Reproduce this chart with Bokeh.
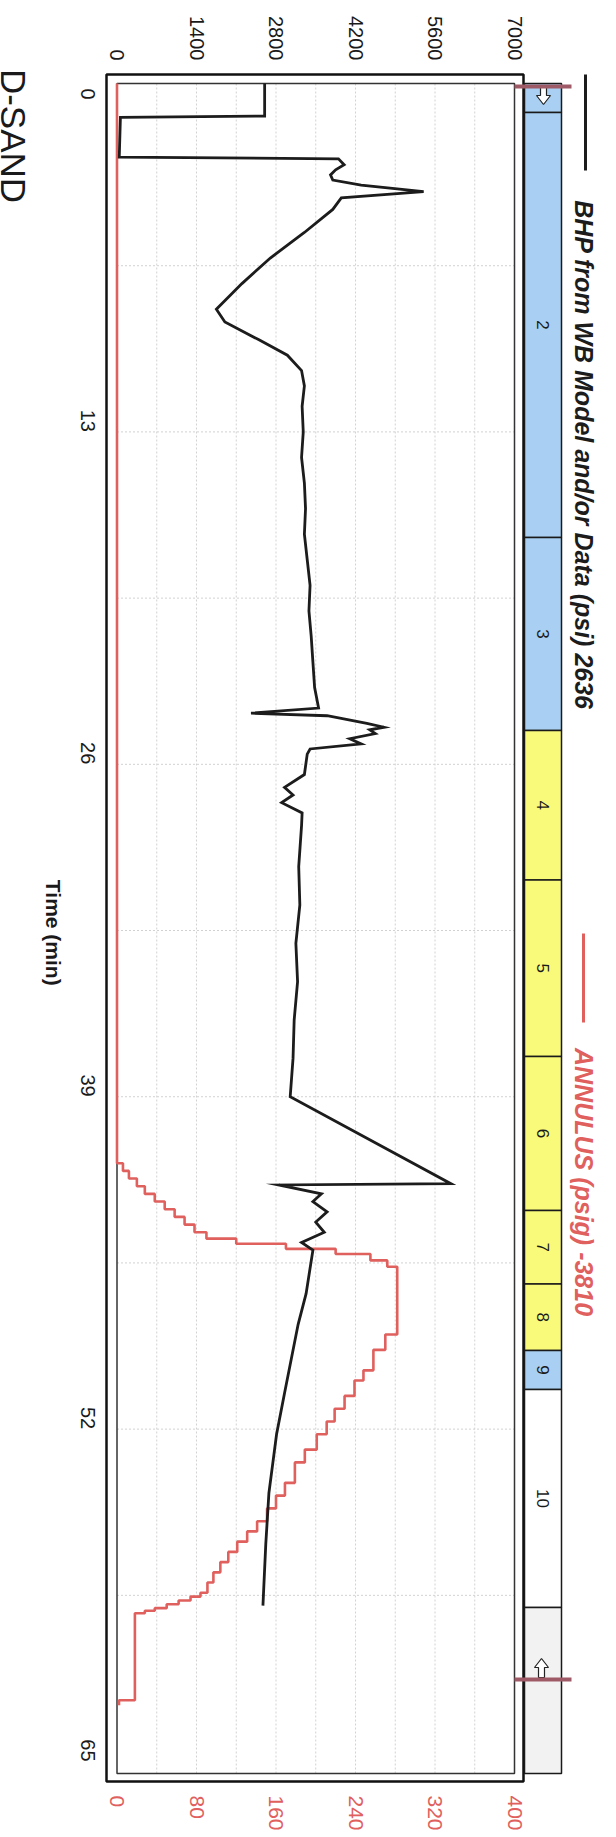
import math
from bokeh.plotting import figure
from bokeh.layouts import row
from bokeh.models import Range1d, LinearAxis, FixedTicker, Label
from bokeh.core.properties import value
from bokeh.embed import file_html
from bokeh.resources import INLINE

# ---------------- data ----------------
bhp_time = [-0.63, 0.65, 0.70, 2.25, 2.32, 2.55, 2.75, 2.95, 3.15, 3.35, 3.6, 3.85, 4.3, 5.2, 6.2, 7.2,
            8.2, 8.7, 9.4, 10.0, 10.6, 11.2, 12.0, 13.0, 14.0, 15.0, 16.0, 17.0, 18.0, 19.0, 20.0, 21.0,
            22.0, 23.0, 23.8, 24.0, 24.1, 24.4, 24.55, 24.65, 24.8, 25.0, 25.2, 25.4, 25.6, 26.4, 26.9,
            27.2, 27.5, 27.9, 28.4, 30.0, 31.5, 33.0, 34.5, 36.0, 37.5, 39.0, 42.4, 42.45, 42.8, 43.1,
            43.5, 43.9, 44.3, 44.7, 45.0, 46.7, 47.9, 50.6, 52.2, 54.5, 56.5, 58.9]
bhp_psi = [2600, 2600, 60, 40, 3900, 4000, 3850, 3760, 3800, 4300, 5400, 3950, 3800, 3300, 2700, 2200,
           1750, 1900, 2500, 3000, 3250, 3300, 3260, 3280, 3250, 3300, 3320, 3300, 3350, 3400, 3380, 3420,
           3450, 3480, 3550, 2360, 3700, 4400, 4700, 4450, 4550, 4100, 4300, 3400, 3350, 3300, 2950,
           3100, 2900, 3260, 3250, 3200, 3220, 3150, 3180, 3120, 3100, 3050, 5880, 2850, 3600, 3450,
           3700, 3500, 3650, 3250, 3450, 3330, 3190, 2950, 2810, 2675, 2620, 2570]

ann_time = [-0.63, 41.6, 41.9, 42.2, 42.5, 42.8, 43.1, 43.4, 43.7, 44.0, 44.3, 44.55, 44.75, 44.95, 45.15,
            45.4, 45.65, 48.3, 48.9, 49.7, 50.1, 50.7, 51.2, 51.7, 52.2, 52.8, 53.3, 54.1, 54.6, 55.1,
            55.6, 56.0, 56.4, 56.8, 57.2, 57.6, 58.0, 58.4, 58.55, 58.7, 58.85, 59.0, 59.1, 59.2, 62.6]
ann_psig = [0, 6, 12, 20, 28, 38, 48, 58, 68, 78, 90, 120, 170, 220, 255,
            272, 282, 270, 258, 248, 239, 229, 219, 211, 201, 189, 179, 169, 160, 151,
            141, 131, 121, 112, 104, 97, 91, 84, 74, 62, 50, 38, 28, 18, 2]
ann_end_time = 62.8

stage_bounds = [-0.63, 0.51, 17.13, 24.68, 30.52, 37.43, 43.45, 46.32, 48.92, 50.45, 58.98, 65.47]
stage_labels = ["", "2", "3", "4", "5", "6", "7", "8", "9", "10", ""]
stage_colors = ["#a9d0f2", "#a9d0f2", "#a9d0f2", "#fafa7a", "#fafa7a", "#fafa7a", "#fafa7a",
                "#fafa7a", "#a9d0f2", "#ffffff", "#f2f2f2"]
marker_times = [-0.51, 61.79]

time_ticks = [0, 13, 26, 39, 52, 65]
bhp_ticks = [0, 1400, 2800, 4200, 5600, 7000]
ann_ticks = [0, 80, 160, 240, 320, 400]
grid_psi = [700, 1400, 2100, 2800, 3500, 4200, 4900, 5600, 6300]
grid_time = [6.5, 13, 19.5, 26, 32.5, 39, 45.5, 52, 58.5]

bhp_legend = "BHP from WB Model and/or Data  (psi) 2636"
ann_legend = "ANNULUS  (psig) -3810"
chart_title = "D-SAND"
time_title = "Time (min)"

# ---------------- geometry helpers (page pixels -> data) ----------------
def px2psi(px):
    return (px - 123.5) * 7000.0 / 397.5

def py2t(py):
    return (py - 107.0) / 25.57

PSI2ANN = 400.0 / 7000.0
RED = "#e0605e"
INK = "#1a1a1a"
FONT = "Liberation Sans"
H = 1821
SIDE_W = 70

# ---------------- left strip with rotated titles ----------------
side = figure(width=SIDE_W, height=H, x_range=Range1d(0, SIDE_W), y_range=Range1d(0, H),
              output_backend="svg", toolbar_location=None,
              x_axis_location=None, y_axis_location=None, min_border=0,
              outline_line_color=None, background_fill_color="white", border_fill_color="white")
for g in side.grid:
    g.visible = False

def side_xy(px, py):
    return px - 8, H - (py - 8)

dx, dy = side_xy(21, 78)
side.add_layout(Label(x=dx, y=dy, text=chart_title, angle=-math.pi / 2,
                      text_align="center", text_baseline="middle", text_font=FONT,
                      text_font_size="35px", text_color=INK))
dx, dy = side_xy(61, 930)
side.add_layout(Label(x=dx, y=dy, text=time_title, angle=-math.pi / 2,
                      text_align="center", text_baseline="middle", text_font=FONT,
                      text_font_size="21px", text_font_style="bold", text_color=INK))

# ---------------- main chart ----------------
x0, x1 = px2psi(108), px2psi(608)
p = figure(frame_width=500, frame_height=1715,
           x_range=Range1d(x0, x1), y_range=Range1d(py2t(1793), py2t(78)),
           output_backend="svg", toolbar_location=None,
           x_axis_location=None, y_axis_location=None,
           min_border_left=30, min_border_right=0, min_border_top=70, min_border_bottom=36,
           outline_line_color=None, background_fill_color="white", border_fill_color="white")
p.extra_x_ranges = {"ann": Range1d(x0 * PSI2ANN, x1 * PSI2ANN)}
for g in p.grid:
    g.visible = False

def style_axis(ax, size, color, standoff):
    ax.axis_line_color = None
    ax.major_tick_line_color = None
    ax.minor_tick_line_color = None
    ax.major_label_text_font = FONT
    ax.major_label_text_font_size = size
    ax.major_label_text_color = color
    ax.major_label_orientation = -math.pi / 2
    ax.major_label_standoff = standoff

top_ax = LinearAxis(ticker=FixedTicker(ticks=bhp_ticks))
style_axis(top_ax, "20px", INK, 4)
p.add_layout(top_ax, "above")

left_ax = LinearAxis(ticker=FixedTicker(ticks=time_ticks))
style_axis(left_ax, "20px", INK, 8)
p.add_layout(left_ax, "left")

bot_ax = LinearAxis(x_range_name="ann", ticker=FixedTicker(ticks=ann_ticks))
style_axis(bot_ax, "21px", RED, 4)
p.add_layout(bot_ax, "below")

# inner plot limits
in_l, in_r, in_t, in_b = 0.0, 7000.0, py2t(91), py2t(1781)

# grid lines
p.segment(x0=grid_psi, y0=[in_t] * len(grid_psi), x1=grid_psi, y1=[in_b] * len(grid_psi),
          line_color="#d2d2d2", line_dash="2 2", line_width=1)
p.segment(x0=[in_l] * len(grid_time), y0=grid_time, x1=[in_r] * len(grid_time), y1=grid_time,
          line_color="#d2d2d2", line_dash="2 2", line_width=1)

# frames
p.quad(left=[px2psi(113)], right=[px2psi(530)], top=[py2t(82)], bottom=[py2t(1789)],
       fill_color=None, line_color="#111111", line_width=2.5)
p.quad(left=[in_l], right=[in_r], top=[in_t], bottom=[in_b],
       fill_color=None, line_color="#333333", line_width=1.5)

# stage strip
s_l, s_r = px2psi(531), px2psi(568)
p.quad(left=[s_l] * len(stage_labels), right=[s_r] * len(stage_labels),
       top=stage_bounds[:-1], bottom=stage_bounds[1:],
       fill_color=stage_colors, line_color=INK, line_width=1.5)
mids = [(a + b) / 2 for a, b in zip(stage_bounds[:-1], stage_bounds[1:])]
p.text(x=[(s_l + s_r) / 2] * len(stage_labels), y=mids, text=stage_labels,
       angle=-math.pi / 2, text_align="center", text_baseline="middle",
       text_font=value(FONT), text_font_size="17px", text_color=INK)

# block arrows in first and last stage boxes
def arrow(cx_px, cy_px, down):
    pts = [(-3, -10), (3, -10), (3, 0), (7, 0), (0, 9), (-7, 0), (-3, 0)]
    sgn = 1 if down else -1
    xs = [px2psi(cx_px + ddx) for ddx, ddy in pts]
    ys = [py2t(cy_px + sgn * ddy) for ddx, ddy in pts]
    return xs, ys

ax1, ay1 = arrow(550, 103, True)
ax2, ay2 = arrow(548, 1675, False)
p.patches(xs=[ax1, ax2], ys=[ay1, ay2], fill_color="white", line_color="#222222", line_width=1.2)

# cursor markers
p.segment(x0=[px2psi(521)] * 2, y0=marker_times, x1=[px2psi(578)] * 2, y1=marker_times,
          line_color="#9e5a66", line_width=4)

# series
ann_x, ann_y = [], []
t_next = ann_time[1:] + [ann_end_time]
for t0, t1, v in zip(ann_time, t_next, ann_psig):
    ann_x += [v, v]
    ann_y += [t0, t1]
p.line(ann_x, ann_y, x_range_name="ann", line_color=RED, line_width=2.6)
p.line(bhp_psi, bhp_time, line_color="#1c1c1c", line_width=2.8, line_join="miter")

# legend (rotated, centred on their measured extents)
p.segment(x0=[px2psi(592)], y0=[py2t(82)], x1=[px2psi(592)], y1=[py2t(178)],
          line_color="#1c1c1c", line_width=3)
p.segment(x0=[px2psi(590)], y0=[py2t(941)], x1=[px2psi(590)], y1=[py2t(1030)],
          line_color=RED, line_width=3)
p.text(x=[px2psi(590), px2psi(590)], y=[py2t(466), py2t(1193)], text=[bhp_legend, ann_legend],
       angle=-math.pi / 2, text_align="center", text_baseline="middle",
       text_font=value(FONT), text_font_size="25px", text_font_style="bold italic",
       text_color=["#1c1c1c", RED])

layout = row(side, p, spacing=0)
open("out.html", "w").write(file_html(layout, INLINE))
